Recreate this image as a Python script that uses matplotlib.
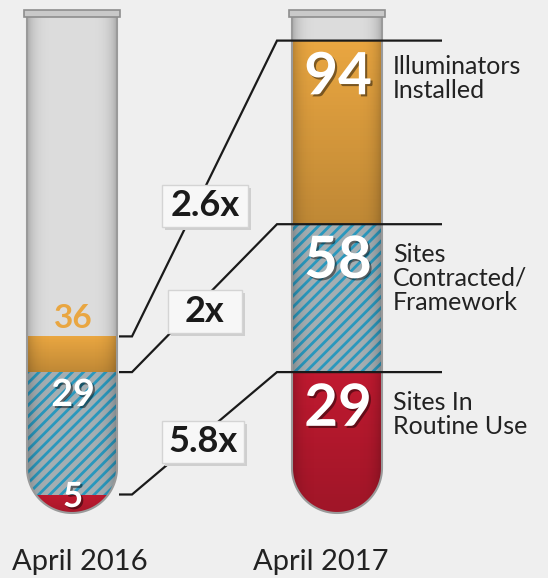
import numpy as np
import matplotlib
matplotlib.use('Agg')
import matplotlib.pyplot as plt
from matplotlib.path import Path
from matplotlib.patches import PathPatch, Rectangle
import matplotlib.patheffects as pe

plt.rcParams['hatch.linewidth'] = 2.0
plt.rcParams['font.family'] = ['Lato', 'DejaVu Sans']

# ---- data ----
years = ['April 2016', 'April 2017']
categories = ['Illuminators\nInstalled', 'Sites\nContracted/\nFramework', 'Sites In\nRoutine Use']
values_2016 = [36, 29, 5]
values_2017 = [94, 58, 29]
growth_labels = ['2.6x', '2x', '5.8x']

# ---- layout / style ----
W, H = 548, 578
BG = '#efefef'
ORANGE = '#e9a641'
RED = '#c01a30'
STRIPE_BLUE = '#2a98bd'
STRIPE_GRAY = '#a4aeb2'
TEXT = '#222222'

fig = plt.figure(figsize=(W / 100, H / 100), dpi=100, facecolor=BG)
ax = fig.add_axes([0, 0, 1, 1])
ax.set_facecolor(BG)
PX0, PXS = 520, 5.1


def v(p):
    """pixel row -> value axis"""
    return (PX0 - p) / PXS


tube_cx = [72, 337]
tube_w = 90
tube_top = v(14)
tube_bot = v(513)
r_y = (tube_w / 2) / PXS


def tube_path(cx):
    x0, x1 = cx - tube_w / 2, cx + tube_w / 2
    yc = tube_bot + r_y
    th = np.linspace(np.pi, 2 * np.pi, 80)
    arc_x = cx + (tube_w / 2) * np.cos(th)
    arc_y = yc + r_y * np.sin(th)
    verts = [(x0, tube_top)] + list(zip(arc_x, arc_y)) + [(x1, tube_top), (x0, tube_top)]
    codes = [Path.MOVETO] + [Path.LINETO] * (len(verts) - 2) + [Path.CLOSEPOLY]
    return Path(verts, codes)


layer_colors = [ORANGE, STRIPE_GRAY, RED]
layer_hatch = [None, '///', None]
layer_edge = ['none', STRIPE_BLUE, 'none']
num_colors = [[ORANGE, 'white', 'white'], ['white', 'white', 'white']]
left_label_px = [318, 395, 497]
left_label_fs = [24, 27, 25]
shadow = [pe.SimplePatchShadow(offset=(1.5, -1.5), shadow_rgbFace='black', alpha=0.45), pe.Normal()]

for j, vals in enumerate([values_2016, values_2017]):
    cx = tube_cx[j]
    glass = PathPatch(tube_path(cx), fc='#dcdcdc', ec='none', zorder=1)
    ax.add_patch(glass)
    for i, val in enumerate(vals):
        nxt = vals[i + 1] if i + 1 < len(vals) else 0
        bars = ax.bar(cx, val - nxt, bottom=nxt, width=tube_w, color=layer_colors[i],
                      hatch=layer_hatch[i], edgecolor=layer_edge[i], linewidth=0, zorder=2)
        for b in bars:
            b.set_clip_path(glass)
        if layer_hatch[i] is None:
            n = 64
            grad = np.zeros((n, 1, 4))
            grad[:, 0, 3] = np.linspace(0.0, 0.18, n)
            im = ax.imshow(grad, extent=[cx - tube_w / 2, cx + tube_w / 2, nxt, val],
                           aspect='auto', zorder=2.5, interpolation='bilinear')
            im.set_clip_path(glass)
    # horizontal glass shading
    prof = np.linspace(-1, 1, 90)
    sh = np.zeros((1, 90, 4))
    sh[0, :, 3] = 0.22 * np.abs(prof) ** 6
    im = ax.imshow(sh, extent=[cx - tube_w / 2, cx + tube_w / 2, tube_bot, tube_top],
                   aspect='auto', zorder=3, interpolation='bilinear')
    im.set_clip_path(glass)
    ax.add_patch(PathPatch(tube_path(cx), fill=False, ec='#9a9a9a', lw=1.5, zorder=4))
    # rim
    ax.add_patch(Rectangle((cx - 48, v(17)), 96, v(10) - v(17), fc='#c9c9c9',
                           ec='#8e8e8e', lw=1.2, zorder=4))
    # numbers
    for i, val in enumerate(vals):
        if j == 0:
            y = v(left_label_px[i])
            fs = left_label_fs[i]
        else:
            y = val - 7.3
            fs = 42
        ax.text(cx + 1, y, str(val), color=num_colors[j][i], fontsize=fs, fontweight='bold',
                ha='center', va='center', zorder=6,
                path_effects=shadow if num_colors[j][i] == 'white' else None)

# connectors + ratio boxes
box_px = [(205, 206, 86, 42), (205, 311, 74, 43), (203, 442, 82, 42)]
for i in range(len(categories)):
    y16, y17 = values_2016[i], values_2017[i]
    ax.plot([119, 132, 277, 442], [y16, y16, y17, y17], color='#1a1a1a', lw=1.6,
            zorder=5, solid_capstyle='butt', solid_joinstyle='miter')
    bx, by, bw, bh = box_px[i]
    ax.add_patch(Rectangle((bx - bw / 2 + 3, v(by + bh / 2 + 3)), bw, bh / PXS,
                           fc='#cfcfcf', ec='none', zorder=6))
    ax.add_patch(Rectangle((bx - bw / 2, v(by + bh / 2)), bw, bh / PXS,
                           fc='#f7f7f7', ec='#d4d4d4', lw=1, zorder=6.5))
    ax.text(bx, v(by), growth_labels[i], fontsize=26, fontweight='bold', color='#1a1a1a',
            ha='center', va='center', zorder=7)

# category labels
cat_top_px = [55, 243, 391]
for i, lab in enumerate(categories):
    ax.text(393, v(cat_top_px[i]), lab, fontsize=18, color=TEXT, ha='left', va='top',
            linespacing=1.05, zorder=7)

# year labels
year_cx = [80, 321]
for j, yr in enumerate(years):
    ax.text(year_cx[j], v(570), yr, fontsize=21, color=TEXT, ha='center', va='baseline')

ax.set_xlim(0, W)
ax.set_ylim(v(H), v(0))
ax.axis('off')
fig.savefig('out.png', dpi=100, facecolor=BG)
